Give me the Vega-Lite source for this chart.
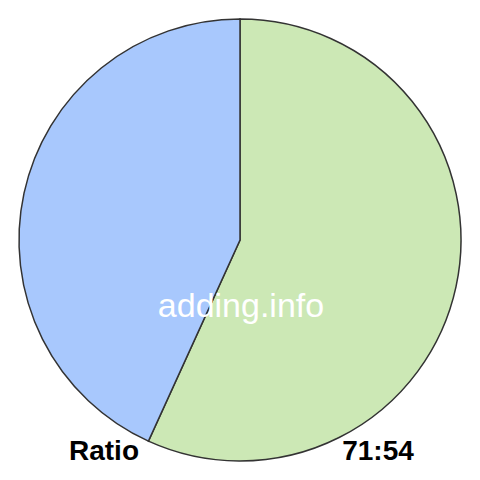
{
  "$schema": "https://vega.github.io/schema/vega-lite/v6.json",
  "width": 480,
  "height": 480,
  "padding": 0,
  "autosize": {"type": "fit", "contains": "padding"},
  "background": "white",
  "config": {"view": {"stroke": null}},
  "datasets": {
    "slices": [
      {"part": "first", "value": 71, "rank": 1},
      {"part": "second", "value": 54, "rank": 2}
    ],
    "notes": [
      {"label": "adding.info", "role": "watermark"},
      {"label": "Ratio", "role": "left"},
      {"label": "71:54", "role": "right"}
    ]
  },
  "layer": [
    {
      "data": {"name": "slices"},
      "mark": {"type": "arc", "outerRadius": 221, "stroke": "#333333", "strokeWidth": 1.5},
      "encoding": {
        "theta": {"field": "value", "type": "quantitative", "stack": true},
        "order": {"field": "rank", "type": "quantitative"},
        "color": {
          "field": "part",
          "type": "nominal",
          "scale": {"domain": ["first", "second"], "range": ["#cce8b5", "#a8c8fd"]},
          "legend": null
        }
      }
    },
    {
      "data": {"name": "notes"},
      "transform": [{"filter": "datum.role == 'watermark'"}],
      "mark": {"type": "text", "font": "Liberation Sans", "fontSize": 34, "color": "white", "align": "center", "baseline": "alphabetic", "dx": 1, "dy": 77},
      "encoding": {"text": {"field": "label"}}
    },
    {
      "data": {"name": "notes"},
      "transform": [{"filter": "datum.role == 'left'"}],
      "mark": {"type": "text", "font": "Liberation Sans", "fontSize": 28, "fontWeight": "bold", "color": "black", "align": "center", "baseline": "alphabetic", "dx": -136, "dy": 220},
      "encoding": {"text": {"field": "label"}}
    },
    {
      "data": {"name": "notes"},
      "transform": [{"filter": "datum.role == 'right'"}],
      "mark": {"type": "text", "font": "Liberation Sans", "fontSize": 28, "fontWeight": "bold", "color": "black", "align": "center", "baseline": "alphabetic", "dx": 138, "dy": 220},
      "encoding": {"text": {"field": "label"}}
    }
  ]
}
